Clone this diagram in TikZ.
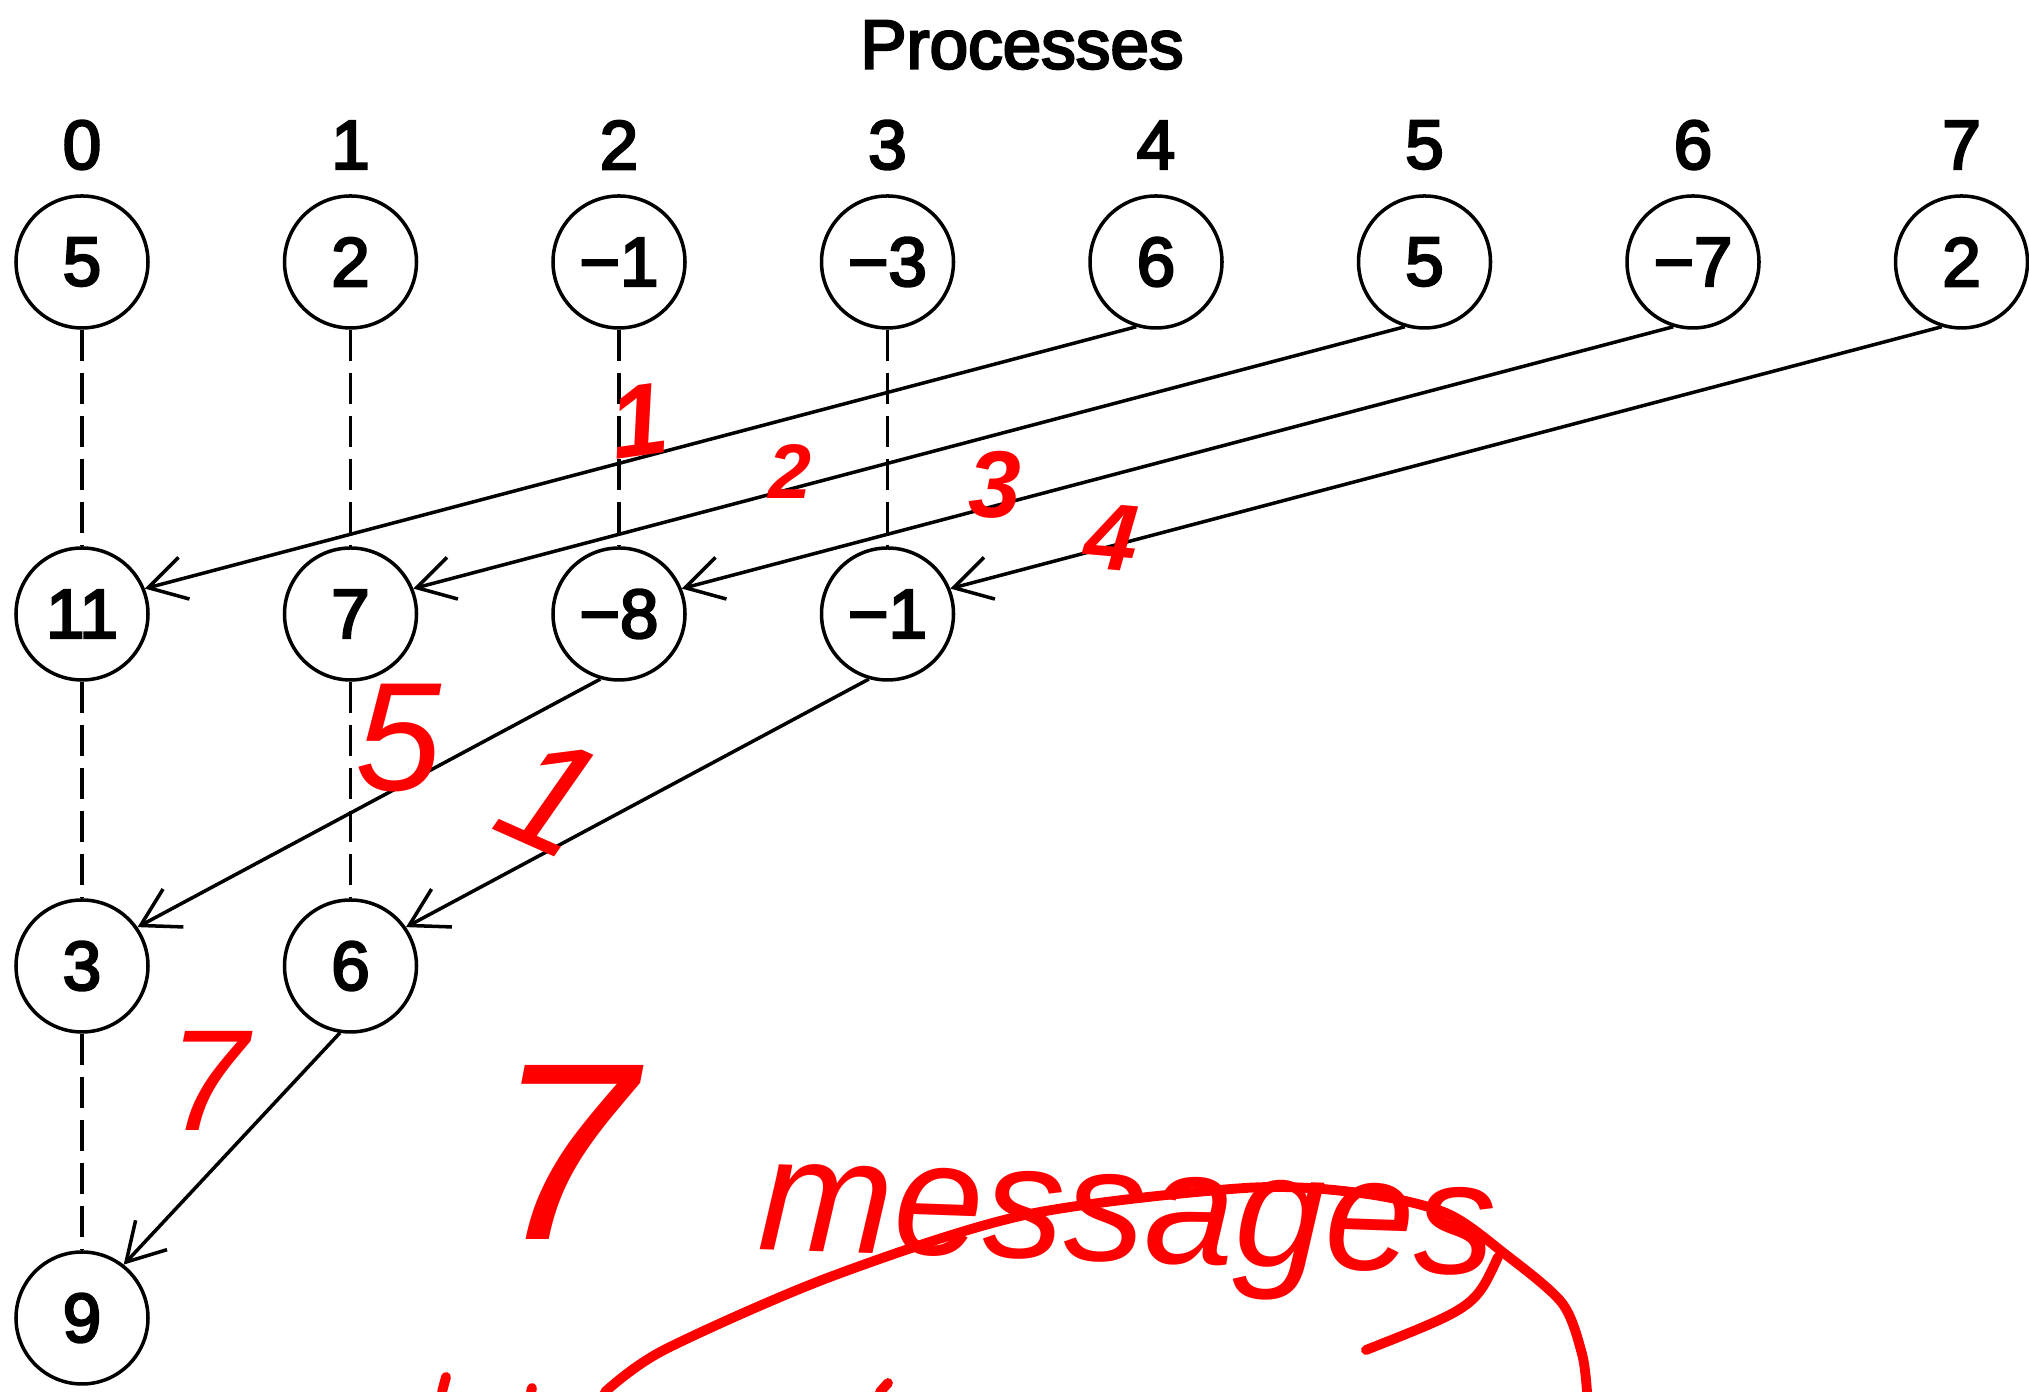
\documentclass[tikz,border=0pt]{standalone}
\usepackage{fontspec}
\setmainfont{Liberation Sans}[FakeBold=3.5]
\usepackage{xcolor}
\usepackage{tikz}
\usetikzlibrary{automata, positioning, arrows.meta}

\definecolor{ink}{RGB}{255,0,0}
\newfontfamily\inkfont{Liberation Sans}

\begin{document}
\begin{tikzpicture}[
        every state/.style={draw, line width=1pt, minimum size=1.32cm, inner sep=0pt},
        node distance=3.52cm and 2.685cm, on grid,
        font=\fontsize{19.7}{23.6}\selectfont,
        msg/.style={line width=1pt, -{Straight Barb[length=0.37cm, width=0.43cm]}},
        same/.style={line width=1pt, dash pattern=on 0.31cm off 0.12cm},
        note/.style={text=ink, inner sep=0pt, font=\inkfont\fontsize{#1}{#1}\selectfont\itshape},
        pen/.style={draw=ink, line width=2.8pt, line cap=round, line join=round}
    ]
        \useasboundingbox (0,0) rectangle (20.29,13.92);

        \node (title) at (10.22,13.47) {Processes};

        \node[state] (a0) at (0.82,11.30) {5};
        \node[state, right=of a0] (a1) {2};
        \node[state, right=of a1] (a2) {−1};
        \node[state, right=of a2] (a3) {−3};
        \node[state, right=of a3] (a4) {6};
        \node[state, right=of a4] (a5) {5};
        \node[state, right=of a5] (a6) {−7};
        \node[state, right=of a6] (a7) {2};
%
        \node[above=1.17cm of a0] (p0) {0};
        \node[above=1.17cm of a1] (p1) {1};
        \node[above=1.17cm of a2] (p2) {2};
        \node[above=1.17cm of a3] (p3) {3};
        \node[above=1.17cm of a4] (p4) {4};
        \node[above=1.17cm of a5] (p5) {5};
        \node[above=1.17cm of a6] (p6) {6};
        \node[above=1.17cm of a7] (p7) {7};
%
        \node[state, below=of a0] (b0) {11};
        \node[state, below=of a1] (b1) {7};
        \node[state, below=of a2] (b2) {−8};
        \node[state, below=of a3] (b3) {−1};
        \node[state, below=of b0] (c0) {3};
        \node[state, below=of b1] (c1) {6};
        \node[state, below=of c0] (d0) {9};

        % processes that keep their own value
        \path[same]
        (a0) edge (b0)
        (a1) edge (b1)
        (a2) edge (b2)
        (a3) edge (b3)
        (b0) edge (c0)
        (b1) edge (c1)
        (c0) edge (d0);

        % values sent to the lower half
        \path[msg]
        (a4.-107) edge (b0.22)
        (a5.-107) edge (b1.22)
        (a6.-107) edge (b2.22)
        (a7.-107) edge (b3.22)
        (b2.-106) edge (c0.35)
        (b3.-106) edge (c1.35)
        (c1.-99) edge (d0.52);

        % counting the messages by hand
        \node[note=29, rotate=8] (n1) at (6.39,9.71) {\bfseries 1};
        \node[note=22] (n2) at (7.90,9.20) {\bfseries 2};
        \node[note=27] (n3) at (9.95,9.07) {\bfseries 3};
        \node[note=27, rotate=-5] (n4) at (11.12,8.55) {\bfseries 4};
        \node[note=44] (n5) at (3.98,6.54) {5};
        \node[note=45, rotate=-24] (n6) at (5.51,5.96) {1};
        \node[note=41] (n7) at (2.09,3.11) {7};
        \node[note=72] (total) at (5.66,2.40) {7};
        \node[note=46, rotate=-2, anchor=base] (word) at (11.26,1.30) {messages};

        \draw[pen] plot[smooth, tension=0.5] coordinates {(6.05,0) (6.64,0.42) (8.30,1.15) (10.25,1.77) (12.45,2.04) (13.60,1.99) (14.46,1.79) (15.05,1.38) (15.62,0.89) (15.82,0.38) (15.87,0)};
        \draw[pen] (14.98,1.35) .. controls (14.75,0.85) .. (13.66,0.42);
        \draw[pen] (4.46,0.15) -- (4.42,0);
        \draw[pen] (5.32,0.04) -- (5.31,0);
        \draw[pen] (8.88,0.09) -- (8.80,0);
\end{tikzpicture}
\end{document}
